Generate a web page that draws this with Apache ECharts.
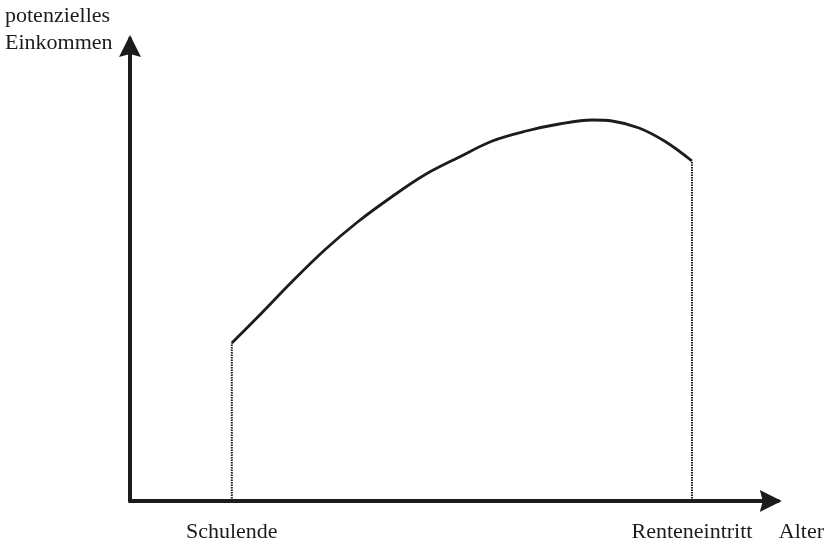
<!DOCTYPE html>
<html lang="de">
<head>
    <meta charset="UTF-8">
    <title>Einkommen</title>
    <script src="https://cdn.jsdelivr.net/npm/echarts@6/dist/echarts.min.js"></script>
</head>
<body style="margin:0;background:#fff">
<div id="chartmain" style="width:827px;height:544px"></div>
<script type="text/javascript">
    // Alter (x) und potenzielles Einkommen (y), ohne Skala
    var ageValues = [102, 128, 162, 195, 228, 262, 295, 330, 363, 397, 430, 463, 483, 510, 537, 563];
    var incomeValues = [158, 184, 219, 251, 279, 304, 326, 344, 360, 370, 377, 381, 380, 373, 359, 340];
    var markAges = [102, 563];
    var markNames = ['Schulende', 'Renteneintritt'];
    var xName = 'Alter';
    var yName = 'potenzielles\nEinkommen';

    var ink = '#1c1c1c';
    var serif = 'Liberation Serif';
    var arrow = 'path://M11,0 L22,22 L11,19 L0,22 Z';

    var curve = ageValues.map(function (a, i) { return [a, incomeValues[i]]; });
    var startY = incomeValues[0];
    var endY = incomeValues[incomeValues.length - 1];

    var myChart = echarts.init(document.getElementById('chartmain'));
    var option = {
        backgroundColor: '#fff',
        animation: false,
        grid: {left: 130, right: 48, top: 39, bottom: 43},
        graphic: [{
            type: 'text',
            left: 5,
            top: 3,
            style: {text: yName, font: '22px "Liberation Serif"', fill: ink, lineHeight: 27}
        }],
        xAxis: {
            type: 'value',
            min: 0,
            max: 649,
            name: xName,
            nameLocation: 'end',
            nameGap: 1,
            nameTextStyle: {fontFamily: serif, fontSize: 22, color: ink, verticalAlign: 'top', padding: [20, 0, 0, 0]},
            splitLine: {show: false},
            axisTick: {show: false},
            axisLine: {
                symbol: ['none', arrow],
                symbolSize: [22, 22],
                symbolOffset: [0, -7],
                lineStyle: {color: ink, width: 4}
            },
            axisLabel: {
                customValues: markAges,
                margin: 20,
                fontFamily: serif,
                fontSize: 22,
                color: ink,
                formatter: function (v) {
                    var i = markAges.indexOf(v);
                    return i >= 0 ? markNames[i] : '';
                }
            }
        },
        yAxis: {
            type: 'value',
            min: 0,
            max: 462,
            splitLine: {show: false},
            axisTick: {show: false},
            axisLabel: {show: false},
            axisLine: {
                symbol: ['none', arrow],
                symbolSize: [22, 22],
                symbolOffset: [0, -7],
                lineStyle: {color: ink, width: 4}
            }
        },
        series: [
            {
                type: 'line',
                data: curve,
                smooth: 0.35,
                symbol: 'none',
                lineStyle: {color: ink, width: 2.8}
            },
            {
                type: 'line',
                data: [[markAges[0], 0], [markAges[0], startY]],
                symbol: 'none',
                lineStyle: {color: ink, width: 2, type: [1.5, 1]}
            },
            {
                type: 'line',
                data: [[markAges[1], 0], [markAges[1], endY]],
                symbol: 'none',
                lineStyle: {color: ink, width: 2, type: [1.5, 1]}
            }
        ]
    };
    myChart.setOption(option);
</script>
</body>
</html>
